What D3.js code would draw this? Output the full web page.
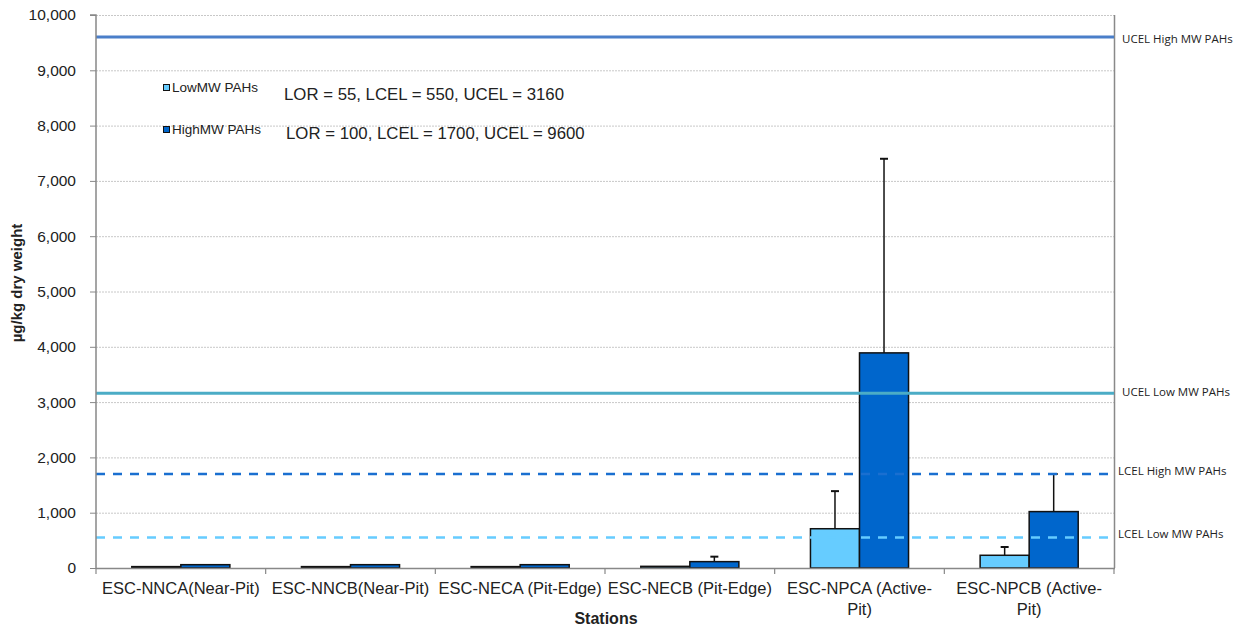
<!DOCTYPE html>
<html>
<head>
<meta charset="utf-8">
<script src="https://cdn.jsdelivr.net/npm/d3@7"></script>
<style>
  html, body { margin: 0; padding: 0; background: #fff; }
  svg { display: block; }
</style>
</head>
<body>
<svg id="chart" width="1242" height="630"></svg>
<script>
// Station categories (label lines as wrapped on the axis)
const stations = [
  ["ESC-NNCA(Near-Pit)"],
  ["ESC-NNCB(Near-Pit)"],
  ["ESC-NECA (Pit-Edge)"],
  ["ESC-NECB (Pit-Edge)"],
  ["ESC-NPCA (Active-", "Pit)"],
  ["ESC-NPCB (Active-", "Pit)"]
];
const seriesNames = ["LowMW PAHs", "HighMW PAHs"];
// Mean concentrations, µg/kg dry weight
const lowMW  = [25, 25, 25, 30, 710, 230];
const highMW = [60, 60, 60, 115, 3890, 1020];
// Upper end of the error bar (null = none shown)
const lowMWErr  = [null, null, null, null, 1390, 380];
const highMWErr = [null, null, null, 205, 7400, 1700];
// Sediment quality guideline lines
const guideNames  = ["UCEL High MW PAHs", "UCEL Low MW PAHs", "LCEL High MW PAHs", "LCEL Low MW PAHs"];
const guideValues = [9600, 3160, 1700, 550];
const yTicks = [0, 1000, 2000, 3000, 4000, 5000, 6000, 7000, 8000, 9000, 10000];
const notes = ["LOR = 55, LCEL = 550, UCEL = 3160", "LOR = 100, LCEL = 1700, UCEL = 9600"];

const svg = d3.select("#chart");
const m = { left: 96, right: 1114, top: 15, bottom: 568 };

const x = d3.scaleBand().domain(d3.range(stations.length)).range([m.left, m.right]).paddingInner(0).paddingOuter(0);
const xs = d3.scaleBand().domain([0, 1]).range([0, x.bandwidth()]).paddingInner(0).paddingOuter(0.73);
const y = d3.scaleLinear().domain([0, 10000]).range([m.bottom, m.top]);

const colors = ["#66CCFF", "#0066CC"];
const guideStyle = [
  { color: "#4A7EC9", width: 3, dash: null },
  { color: "#4BACC6", width: 3, dash: null },
  { color: "#1A6FD0", width: 2.5, dash: "9,8" },
  { color: "#66CCFF", width: 2.5, dash: "9,8" }
];
const guideLabelPos = [
  { x: 1122, dy: 3 },
  { x: 1122, dy: 0 },
  { x: 1118, dy: -2 },
  { x: 1118, dy: -3 }
];

// Gridlines
svg.append("g").selectAll("line").data(yTicks.filter(d => d > 0)).join("line")
  .attr("x1", m.left).attr("x2", m.right)
  .attr("y1", d => y(d) + 0.5).attr("y2", d => y(d) + 0.5)
  .attr("stroke", "#c8c8c8").attr("stroke-width", 1).attr("stroke-dasharray", "2,1");

// Right border of plot area
svg.append("line").attr("x1", m.right + 0.5).attr("x2", m.right + 0.5)
  .attr("y1", m.top).attr("y2", m.bottom).attr("stroke", "#898989").attr("stroke-width", 1.5);

// Bars
const series = [lowMW, highMW];
const errs = [lowMWErr, highMWErr];
series.forEach((vals, s) => {
  svg.append("g").selectAll("rect").data(vals).join("rect")
    .attr("x", (d, i) => x(i) + xs(s))
    .attr("y", d => y(d))
    .attr("width", xs.bandwidth())
    .attr("height", d => y(0) - y(d))
    .attr("fill", colors[s])
    .attr("stroke", "#111").attr("stroke-width", 1.5);
});

// Error bars
series.forEach((vals, s) => {
  const g = svg.append("g");
  vals.forEach((v, i) => {
    const e = errs[s][i];
    if (e == null) return;
    const cx = x(i) + xs(s) + xs.bandwidth() / 2;
    g.append("line").attr("x1", cx).attr("x2", cx).attr("y1", y(v)).attr("y2", y(e))
      .attr("stroke", "#111").attr("stroke-width", 1.5);
    g.append("line").attr("x1", cx - 4).attr("x2", cx + 4).attr("y1", y(e)).attr("y2", y(e))
      .attr("stroke", "#111").attr("stroke-width", 2);
  });
});

// Guideline lines
guideValues.forEach((v, i) => {
  const st = guideStyle[i];
  const ln = svg.append("line")
    .attr("x1", m.left).attr("x2", m.right)
    .attr("y1", y(v)).attr("y2", y(v))
    .attr("stroke", st.color).attr("stroke-width", st.width);
  if (st.dash) ln.attr("stroke-dasharray", st.dash);
  svg.append("text")
    .attr("x", guideLabelPos[i].x).attr("y", y(v) + guideLabelPos[i].dy)
    .attr("dominant-baseline", "middle")
    .attr("font-family", "'Open Sans', Lato, sans-serif").attr("font-size", 11.5)
    .attr("fill", "#222").text(guideNames[i]);
});

// Y axis
const yAxis = d3.axisLeft(y).tickValues(yTicks).tickSize(6).tickPadding(14)
  .tickFormat(d3.format(","));
const ya = svg.append("g").attr("transform", `translate(${m.left},0)`).call(yAxis);
ya.select(".domain").attr("stroke", "#888").attr("stroke-width", 1.5).attr("d", `M-6,${m.top}H0V${m.bottom}`);
ya.selectAll(".tick line").attr("stroke", "#888");
ya.selectAll(".tick text").attr("font-family", "'Liberation Sans', Arial, sans-serif")
  .attr("font-size", 15.5).attr("fill", "#222");

// X axis
const xa = svg.append("g").attr("transform", `translate(0,${m.bottom})`);
xa.append("line").attr("x1", m.left).attr("x2", m.right + 1).attr("y1", 0.5).attr("y2", 0.5)
  .attr("stroke", "#888").attr("stroke-width", 1.5);
xa.selectAll("line.tk").data(d3.range(stations.length + 1)).join("line").attr("class", "tk")
  .attr("x1", i => i < stations.length ? x(i) : m.right)
  .attr("x2", i => i < stations.length ? x(i) : m.right)
  .attr("y1", 0).attr("y2", 6).attr("stroke", "#888").attr("stroke-width", 1.2);
stations.forEach((lines, i) => {
  const t = xa.append("text")
    .attr("x", x(i) + x.bandwidth() / 2).attr("y", 26)
    .attr("text-anchor", "middle")
    .attr("font-family", "'Liberation Sans', Arial, sans-serif").attr("font-size", 16.5)
    .attr("fill", "#222");
  lines.forEach((l, k) => t.append("tspan").attr("x", x(i) + x.bandwidth() / 2).attr("dy", k ? 21 : 0).text(l));
});

// Axis titles
svg.append("text").attr("x", (m.left + m.right) / 2 + 1).attr("y", 624)
  .attr("text-anchor", "middle").attr("font-family", "'Liberation Sans', Arial, sans-serif")
  .attr("font-size", 16).attr("font-weight", "bold").attr("fill", "#222").text("Stations");
svg.append("text").attr("transform", `translate(22,283) rotate(-90)`)
  .attr("text-anchor", "middle").attr("font-family", "'Liberation Sans', Arial, sans-serif")
  .attr("font-size", 15).attr("font-weight", "bold").attr("fill", "#222").text("µg/kg dry weight");

// Legend and guideline notes
const legY = [88, 130];
seriesNames.forEach((n, i) => {
  svg.append("rect").attr("x", 163.5).attr("y", legY[i] - 3.5).attr("width", 6).attr("height", 6)
    .attr("fill", colors[i]).attr("stroke", "#111").attr("stroke-width", 1);
  svg.append("text").attr("x", 172).attr("y", legY[i]).attr("dominant-baseline", "middle")
    .attr("font-family", "'Liberation Sans', Arial, sans-serif").attr("font-size", 13.5)
    .attr("fill", "#222").text(n);
});
const noteX = [284, 286], noteY = [96, 135];
notes.forEach((n, i) => {
  svg.append("text").attr("x", noteX[i]).attr("y", noteY[i]).attr("dominant-baseline", "middle")
    .attr("font-family", "'Liberation Sans', Arial, sans-serif").attr("font-size", 16.8)
    .attr("fill", "#222").text(n);
});
</script>
</body>
</html>
